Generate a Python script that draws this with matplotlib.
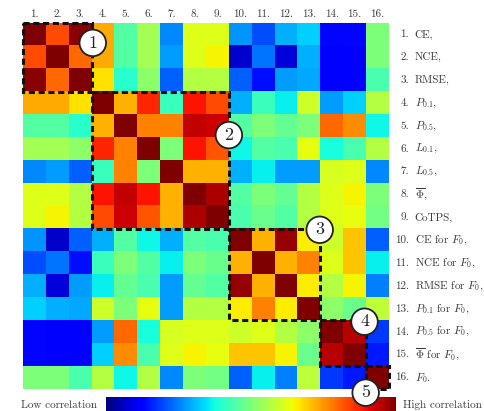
import numpy as np
import matplotlib
matplotlib.use("Agg")
import matplotlib.pyplot as plt
from matplotlib.patches import Rectangle, Circle

plt.rcParams['font.family'] = 'cmr10'
plt.rcParams['mathtext.fontset'] = 'cm'
plt.rcParams['axes.unicode_minus'] = False

# correlation matrix (jet scale 0..1)
corr = [
    [1.00, 0.83, 0.99, 0.73, 0.45, 0.55, 0.26, 0.62, 0.62, 0.27, 0.20, 0.30, 0.33, 0.13, 0.13, 0.50],
    [0.83, 1.00, 0.80, 0.73, 0.45, 0.55, 0.28, 0.62, 0.65, 0.07, 0.24, 0.08, 0.30, 0.12, 0.12, 0.50],
    [0.99, 0.80, 1.00, 0.67, 0.40, 0.52, 0.22, 0.57, 0.57, 0.22, 0.14, 0.28, 0.29, 0.12, 0.12, 0.44],
    [0.73, 0.73, 0.67, 1.00, 0.72, 0.87, 0.42, 0.89, 0.83, 0.30, 0.42, 0.36, 0.60, 0.28, 0.33, 0.57],
    [0.45, 0.45, 0.40, 0.72, 1.00, 0.77, 0.77, 0.94, 0.93, 0.45, 0.50, 0.47, 0.50, 0.80, 0.76, 0.37],
    [0.55, 0.55, 0.52, 0.87, 0.77, 1.00, 0.50, 0.89, 0.82, 0.37, 0.45, 0.44, 0.63, 0.38, 0.44, 0.57],
    [0.26, 0.28, 0.22, 0.42, 0.77, 0.50, 1.00, 0.72, 0.72, 0.30, 0.36, 0.28, 0.28, 0.61, 0.62, 0.26],
    [0.62, 0.62, 0.57, 0.89, 0.94, 0.89, 0.72, 1.00, 0.96, 0.45, 0.50, 0.47, 0.57, 0.62, 0.65, 0.50],
    [0.62, 0.65, 0.57, 0.83, 0.93, 0.82, 0.72, 0.96, 1.00, 0.44, 0.48, 0.45, 0.57, 0.62, 0.63, 0.49],
    [0.27, 0.07, 0.22, 0.30, 0.45, 0.37, 0.30, 0.45, 0.44, 1.00, 0.72, 0.98, 0.66, 0.60, 0.70, 0.22],
    [0.20, 0.24, 0.14, 0.42, 0.50, 0.45, 0.36, 0.50, 0.48, 0.72, 1.00, 0.72, 0.77, 0.62, 0.70, 0.36],
    [0.30, 0.08, 0.28, 0.36, 0.47, 0.44, 0.28, 0.47, 0.45, 0.98, 0.72, 1.00, 0.66, 0.57, 0.65, 0.25],
    [0.33, 0.30, 0.29, 0.60, 0.50, 0.63, 0.28, 0.57, 0.57, 0.66, 0.77, 0.66, 1.00, 0.52, 0.48, 0.58],
    [0.13, 0.12, 0.12, 0.28, 0.80, 0.38, 0.61, 0.62, 0.62, 0.60, 0.62, 0.57, 0.52, 1.00, 0.95, 0.18],
    [0.13, 0.12, 0.12, 0.33, 0.76, 0.44, 0.62, 0.65, 0.63, 0.70, 0.70, 0.65, 0.48, 0.95, 1.00, 0.15],
    [0.50, 0.50, 0.44, 0.57, 0.37, 0.57, 0.26, 0.50, 0.49, 0.22, 0.36, 0.25, 0.58, 0.18, 0.15, 1.00],
]

nums = ['%d.' % (i + 1) for i in range(16)]
names = ['CE,', 'NCE,', 'RMSE,', r'$P_{0.1}$,', r'$P_{0.5}$,', r'$L_{0.1}$,', r'$L_{0.5}$,',
         r'$\overline{\Phi}$,', 'CoTPS,', r'CE for $F_0$,', r'NCE for $F_0$,',
         r'RMSE for $F_0$,', r'$P_{0.1}$ for $F_0$,', r'$P_{0.5}$ for $F_0$,',
         r'$\overline{\Phi}$ for $F_0$,', r'$F_0$.']

# blocks (start, end) of the dashed boxes, and where their numbered circles sit
groups = [(0, 3), (3, 9), (9, 13), (13, 15), (15, 16)]
badge_xy = [(2.55, 0.37), (8.5, 4.4), (12.47, 8.54), (14.43, 12.56), (14.48, 15.66)]

txt_col = '#3a3a3a'
fs = 8

fig = plt.figure(figsize=(4.84, 4.11), dpi=100)
ax = fig.add_axes([23/484, 22/411, 366/484, 366/411])
ax.set_zorder(3)
im = ax.imshow(np.array(corr), cmap='jet', vmin=0, vmax=1, interpolation='nearest')
ax.set_xticks([])
ax.set_yticks([])
for s in ax.spines.values():
    s.set_visible(False)

for i in range(16):
    ax.text(i, -0.87, nums[i], ha='center', va='center', fontsize=fs, color=txt_col)
    ax.text(16.38, i, nums[i], ha='right', va='center', fontsize=fs, color=txt_col)
    ax.text(16.62, i, names[i], ha='left', va='center', fontsize=fs, color=txt_col)

for (a, b), (cx, cy), k in zip(groups, badge_xy, range(1, 6)):
    ax.add_patch(Rectangle((a - 0.5, a - 0.5), b - a, b - a, fill=False, ec='#111111',
                           lw=2.2, ls=(0, (2.0, 1.2)), clip_on=False, zorder=4))
    ax.add_patch(Circle((cx, cy), 0.58, fc='white', ec='#222222', lw=1.3,
                        clip_on=False, zorder=5))
    ax.text(cx, cy, str(k), ha='center', va='center', fontsize=13, color='#222222',
            zorder=6)

cax = fig.add_axes([106/484, -0.01, 290/484, 18/411])
cb = fig.colorbar(im, cax=cax, orientation='horizontal')
cb.set_ticks([])
cb.outline.set_visible(False)

fig.text(21/484, 6/411, 'Low correlation', ha='left', va='center', fontsize=fs, color=txt_col)
fig.text(403/484, 6/411, 'High correlation', ha='left', va='center', fontsize=fs, color=txt_col)

fig.savefig('out.png', dpi=100)
